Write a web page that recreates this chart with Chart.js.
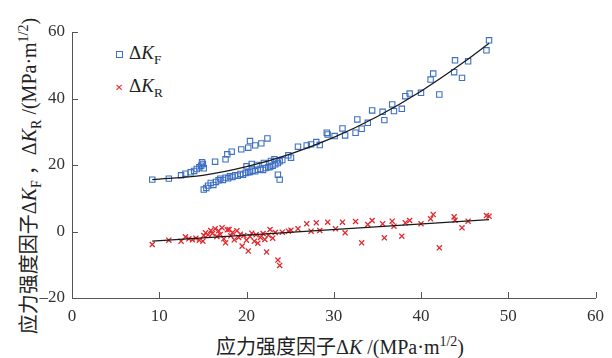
<!DOCTYPE html>
<html>
<head>
<meta charset="utf-8">
<script src="https://cdn.jsdelivr.net/npm/chart.js@4/dist/chart.umd.min.js"></script>
<style>
  html, body { margin: 0; padding: 0; background: #fff; }
  #wrap { position: relative; width: 612px; height: 358px; }
  canvas { position: absolute; left: 0; top: 0; z-index: 2; }
  .txt { position: absolute; z-index: 1; font-family: "Liberation Serif", "Noto Sans CJK SC", serif; color: #222; white-space: nowrap; }
  .cjk { font-family: "Noto Sans CJK SC", sans-serif; }
  .k { font-style: italic; }
  sub, sup { font-size: 70%; line-height: 0; }
  .leg { font-size: 19px; left: 129px; }
  .mk-sq { position: absolute; z-index: 1; width: 5px; height: 5px; border: 1px solid #3d6fc2; }
  .mk-x { position: absolute; z-index: 1; font-family: "DejaVu Sans", sans-serif; font-size: 10px; color: #e0282d; line-height: 10px; }
</style>
</head>
<body>
<div id="wrap">
  <canvas id="c" width="612" height="358"></canvas>
  <div class="mk-sq" style="left:116px;top:51px"></div>
  <div class="txt leg" style="top:42px">Δ<span class="k">K</span><sub>F</sub></div>
  <div class="mk-x" style="left:115px;top:83px">✕</div>
  <div class="txt leg" style="top:75px">Δ<span class="k">K</span><sub>R</sub></div>
  <div class="txt" style="left:216px;top:331px;font-size:20px"><span class="cjk">应力强度因子</span>Δ<span class="k">K</span> /(MPa·m<sup>1/2</sup>)</div>
  <div class="txt" style="left:28px;top:176px;font-size:20px;line-height:22px;transform:translate(-50%,-50%) rotate(-90deg)"><span class="cjk">应力强度因子</span>Δ<span class="k">K</span><sub>F</sub> <span class="cjk">，</span>Δ<span class="k">K</span><sub>R</sub> /(MPa·m<sup>1/2</sup>)</div>
</div>
<script>
// ΔK_F scatter (x = ΔK, y = ΔK_F)
const kfPoints = [
  [9.2, 15.6], [11.1, 15.9], [12.5, 16.9], [13.0, 17.4], [13.6, 17.8], [14.0, 18.2],
  [14.3, 18.8], [14.6, 19.3], [14.8, 19.8], [15.0, 20.3], [15.1, 19.0], [14.9, 20.8],
  [15.1, 12.6], [15.4, 13.1], [15.6, 13.8], [15.9, 14.6], [16.2, 14.0], [16.5, 14.9],
  [16.8, 15.4], [17.0, 15.9], [17.3, 15.5], [17.6, 16.2], [17.9, 16.0], [18.1, 16.6],
  [18.4, 16.4], [18.7, 16.9], [19.0, 16.8], [19.3, 17.3], [19.6, 17.1], [19.9, 17.6],
  [20.2, 17.8], [20.4, 17.9], [20.7, 18.3], [21.0, 18.1], [21.3, 18.6], [21.6, 18.8],
  [21.9, 18.5], [22.2, 19.1], [22.5, 19.3], [22.7, 19.4], [23.0, 19.8], [23.3, 20.2],
  [23.6, 20.6], [23.8, 21.1], [24.1, 21.5],
  [16.4, 21.0], [17.6, 21.7], [17.8, 23.2], [18.3, 24.0], [19.4, 24.7], [20.2, 25.2],
  [20.4, 27.2], [21.0, 25.9], [21.7, 26.5], [22.4, 28.0],
  [20.0, 19.6], [20.6, 20.3], [21.2, 20.0], [22.0, 20.6], [22.8, 21.2], [23.2, 21.7],
  [23.6, 17.1], [23.8, 15.6],
  [24.8, 22.9], [25.1, 22.2], [25.9, 25.5], [26.9, 25.9], [27.4, 26.2], [28.0, 26.9],
  [28.4, 26.0], [29.2, 29.7], [29.3, 29.2], [30.1, 28.7], [31.0, 31.0], [31.3, 28.9],
  [32.5, 29.7], [32.7, 33.7], [33.2, 30.9], [33.9, 32.7], [34.4, 36.4], [35.6, 36.0],
  [35.8, 33.5], [36.7, 38.2], [36.9, 36.2], [37.8, 36.9], [38.2, 40.7], [38.7, 41.5],
  [40.0, 41.7], [41.1, 45.7], [41.4, 47.5], [42.1, 41.2], [43.8, 47.9], [43.9, 51.5],
  [44.7, 46.2], [45.4, 51.2], [47.5, 54.5], [47.8, 57.5]
];

// ΔK_R scatter
const krPoints = [
  [9.2, -3.9], [11.1, -2.6], [12.5, -2.9], [13.0, -1.6], [13.4, -2.2], [13.8, -2.5],
  [14.2, -2.0], [14.6, -2.6], [15.0, -2.9], [15.1, -1.2], [15.3, -0.4], [15.6, -1.0],
  [15.9, 0.3], [16.1, -0.6], [16.4, 0.8], [16.6, -1.5], [16.8, 0.2], [17.0, -0.9],
  [17.2, 1.1], [17.4, -2.2], [17.6, -3.4], [17.8, 0.5], [18.0, 0.6], [18.2, -1.3],
  [18.4, -0.3], [18.6, -2.5], [18.9, 0.2], [19.1, -1.8], [19.3, -0.8], [19.5, -4.4],
  [19.7, -1.2], [20.0, -2.6], [20.2, -5.9], [20.4, -1.5], [20.6, -0.5], [20.9, -2.9],
  [21.1, -1.0], [21.3, -3.5], [21.6, -1.8], [21.9, -0.6], [22.1, -2.4], [22.3, -6.2],
  [22.5, -1.1], [22.7, 0.6], [23.0, -2.0], [23.3, -0.3], [23.6, -8.6], [23.8, -10.2],
  [24.1, -0.2], [24.8, 0.1], [25.1, 0.4],
  [25.9, 0.8], [26.9, 2.3], [27.4, 0.1], [28.0, 2.6], [28.4, 0.3], [29.3, 2.8],
  [30.2, 0.8], [31.0, 2.8], [31.3, -0.4], [32.5, 3.0], [33.2, -3.4], [33.9, 2.1],
  [34.4, 3.3], [35.6, 2.3], [35.8, -1.9], [36.7, 3.1], [36.9, 1.6], [37.8, -1.4],
  [38.2, 2.6], [38.7, 3.3], [40.0, 2.3], [41.1, 3.8], [41.4, 5.1], [42.1, -4.9],
  [43.8, 4.4], [43.9, 3.4], [44.7, 1.1], [45.4, 3.1], [47.5, 4.8], [47.8, 4.6]
];

// fitted curves, points
const kfFitX = [9.2, 15, 20, 25, 30, 35, 40, 45, 47.8];
const kfFitY = [15.6, 16.9, 19.5, 23.3, 28.3, 34.6, 42.2, 51.1, 56.6];
const krFitX = [9.2, 47.8];
const krFitY = [-2.9, 3.6];

const xTicks = [0, 10, 20, 30, 40, 50, 60];
const yTicks = [-20, 0, 20, 40, 60];
const yTickLabels = ["–20", "0", "20", "40", "60"];

const toXY = (arr) => arr.map(([x, y]) => ({ x, y }));
const zip = (xs, ys) => xs.map((x, i) => ({ x, y: ys[i] }));

const AXIS = "#555";

// little ticks pointing into the plot, like the original figure
const innerTicks = {
  id: "innerTicks",
  afterDraw(chart) {
    const { ctx, chartArea: a, scales } = chart;
    ctx.save();
    ctx.strokeStyle = AXIS;
    ctx.lineWidth = 1;
    ctx.beginPath();
    xTicks.forEach((v) => {
      const p = Math.round(scales.x.getPixelForValue(v)) + 0.5;
      ctx.moveTo(p, a.bottom);
      ctx.lineTo(p, a.bottom - 6);
    });
    yTicks.forEach((v) => {
      const p = Math.round(scales.y.getPixelForValue(v)) + 0.5;
      ctx.moveTo(a.left, p);
      ctx.lineTo(a.left + 6, p);
    });
    ctx.stroke();
    ctx.restore();
  },
};

const tickFont = { family: "'Liberation Serif', serif", size: 17 };

new Chart(document.getElementById("c"), {
  type: "scatter",
  data: {
    datasets: [
      {
        label: "ΔKF fit",
        type: "line",
        data: zip(kfFitX, kfFitY),
        borderColor: "#1a1a1a",
        borderWidth: 1.3,
        pointRadius: 0,
        cubicInterpolationMode: "monotone",
        fill: false,
        order: 0,
      },
      {
        label: "ΔKR fit",
        type: "line",
        data: zip(krFitX, krFitY),
        borderColor: "#1a1a1a",
        borderWidth: 1.3,
        pointRadius: 0,
        fill: false,
        order: 0,
      },
      {
        label: "ΔKF",
        data: toXY(kfPoints),
        pointStyle: "rect",
        pointRadius: 3.8,
        borderColor: "#3d6fc2",
        backgroundColor: "rgba(0,0,0,0)",
        borderWidth: 1.1,
        order: 1,
      },
      {
        label: "ΔKR",
        data: toXY(krPoints),
        pointStyle: "crossRot",
        pointRadius: 3.6,
        borderColor: "#e0282d",
        borderWidth: 1.3,
        order: 1,
      },
    ],
  },
  options: {
    responsive: false,
    animation: false,
    layout: { padding: { left: 0, top: 32, right: 12, bottom: 0 } },
    plugins: { legend: { display: false }, tooltip: { enabled: false } },
    scales: {
      x: {
        min: 0,
        max: 60,
        afterBuildTicks: (s) => { s.ticks = xTicks.map((v) => ({ value: v })); },
        afterFit: (s) => { s.height = 60; },
        grid: { display: false, drawTicks: false },
        border: { display: true, color: AXIS, width: 1 },
        ticks: { font: tickFont, color: "#333", padding: 8, maxRotation: 0 },
      },
      y: {
        min: -20,
        max: 60,
        afterBuildTicks: (s) => { s.ticks = yTicks.map((v) => ({ value: v })); },
        afterFit: (s) => { s.width = 72; },
        grid: { display: false, drawTicks: false },
        border: { display: true, color: AXIS, width: 1 },
        ticks: {
          font: tickFont,
          color: "#333",
          padding: 7,
          callback: (v, i) => yTickLabels[i],
        },
      },
    },
  },
  plugins: [innerTicks],
});
</script>
</body>
</html>
